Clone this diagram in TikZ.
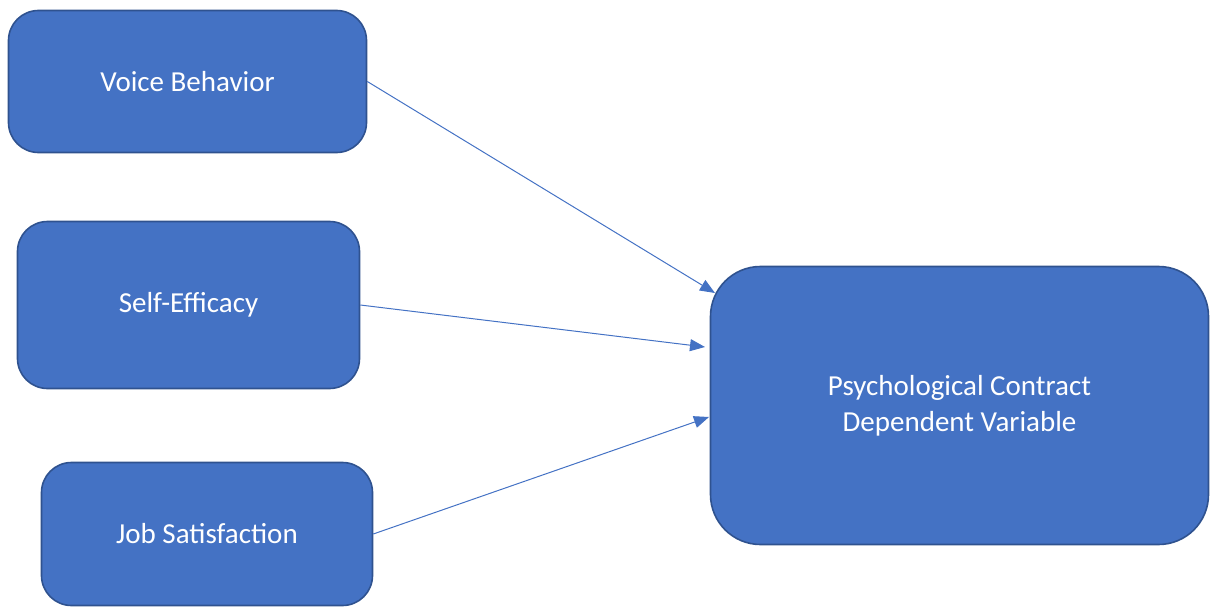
\documentclass[tikz,border=0pt]{standalone}
\usepackage{fontspec}
\setmainfont{Carlito}
\usepackage{tikz}
\usetikzlibrary{arrows.meta,positioning,calc}
\definecolor{boxblue}{HTML}{4472C4}
\definecolor{boxedge}{HTML}{2F528F}
\tikzset{
  varbox/.style={rectangle, rounded corners=#1, draw=boxedge, line width=1.6pt, fill=boxblue,
                 text=white, align=center, font=\fontsize{29}{36}\selectfont, inner sep=0pt},
  arr/.style={-{Triangle[length=15pt,width=12pt]}, line width=1pt, draw=boxblue},
}
\begin{document}
\begin{tikzpicture}[x=1pt,y=-1pt]
     \useasboundingbox (0,0) rectangle (1210,607);
     \node[varbox=30pt, minimum width=358pt, minimum height=142pt] (vb) at (187.5,81.5){Voice Behavior};
     \node[varbox=30pt, minimum width=342pt, minimum height=167pt] (se) at (188.5,305){Self-Efficacy};
     \node[varbox=30pt, minimum width=331pt, minimum height=143pt] (js) at (207,534){Job Satisfaction};
     \node[varbox=50pt, minimum width=498pt, minimum height=278pt] (pc) at (959.5,405.5){Psychological Contract\\Dependent Variable};
     \coordinate (t1) at (715,293); \coordinate (t2) at (705,347); \coordinate (t3) at (709,417);
     \draw[arr](vb.east)--(t1); \draw[arr](se.east)--(t2); \draw[arr](js.east)--(t3);
   \end{tikzpicture}
\end{document}
